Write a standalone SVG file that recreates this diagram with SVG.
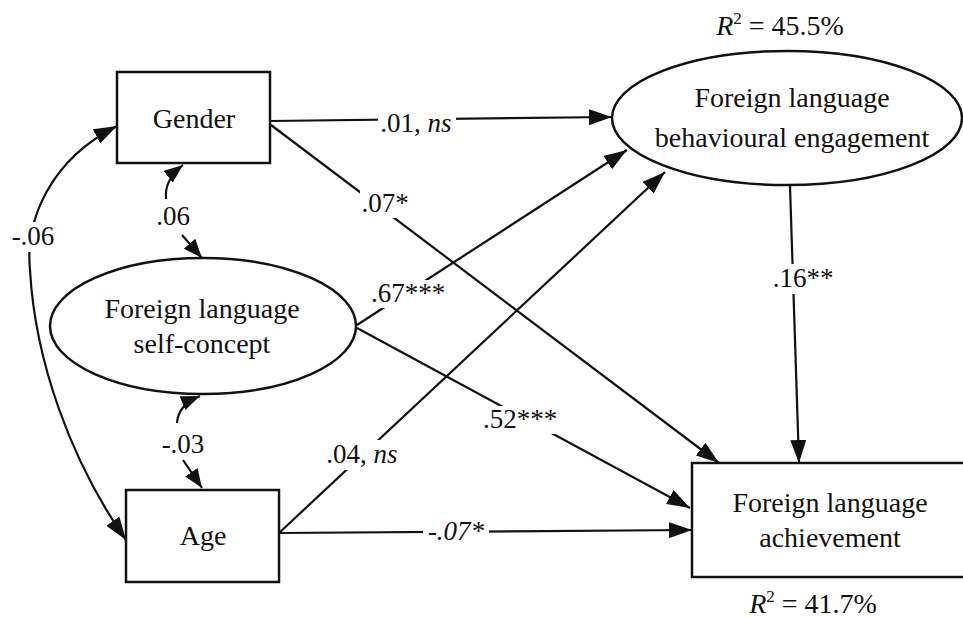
<svg xmlns="http://www.w3.org/2000/svg" width="963" height="618" viewBox="0 0 963 618">
<style>
.node{font-size:28px}
.lab{font-size:27px}
.bg{fill:#fff;stroke:none}
.shape{fill:#fff;stroke:#111;stroke-width:2.5}
.conn path,.conn line{fill:none;stroke:#111;stroke-width:2.2;marker-end:url(#ah)}
</style>
<defs>
<marker id="ah" markerUnits="userSpaceOnUse" markerWidth="24" markerHeight="16" refX="23" refY="8" orient="auto-start-reverse">
<path d="M0,0 L23,8 L0,16 z" fill="#111"/>
</marker>
<marker id="ahs" markerUnits="userSpaceOnUse" markerWidth="20" markerHeight="15" refX="19" refY="7.5" orient="auto">
<path d="M0,0 L19,7.5 L0,15 z" fill="#111"/>
</marker>
</defs>
<g id="conns" class="conn">
<line x1="270" y1="121" x2="612" y2="117"/>
<line x1="271" y1="125" x2="719" y2="463"/>
<line x1="357" y1="325" x2="627" y2="150"/>
<line x1="357" y1="328" x2="690" y2="508"/>
<line x1="279" y1="533" x2="665" y2="172"/>
<line x1="279" y1="533" x2="692" y2="530"/>
<line x1="790" y1="186" x2="799" y2="463"/>
<path d="M30,270 C25,220 50,160 117,126"/>
<path d="M30,270 C35,360 70,460 126,540"/>
<path d="M166,199 Q164,180 183,165" style="marker-end:url(#ahs)"/>
<path d="M182,235 L202,258" style="marker-end:url(#ahs)"/>
<path d="M177,423 Q178,405 200,396" style="marker-end:url(#ahs)"/>
<path d="M183,460 L202,488" style="marker-end:url(#ahs)"/>
</g>
<g id="labels" font-family="Liberation Serif, Times New Roman, serif" fill="#111" text-anchor="middle">
<rect class="bg" x="378" y="108" width="78" height="30"/>
<rect class="bg" x="360" y="188" width="50" height="30"/>
<rect class="bg" x="368" y="280" width="80" height="28"/>
<rect class="bg" x="480" y="406" width="80" height="28"/>
<rect class="bg" x="322" y="440" width="80" height="30"/>
<rect class="bg" x="423" y="518" width="66" height="28"/>
<rect class="bg" x="770" y="264" width="66" height="30"/>
<rect class="bg" x="10" y="222" width="46" height="30"/>
<text class="lab" x="416" y="132">.01, <tspan font-style="italic">ns</tspan></text>
<text class="lab" x="385" y="212">.07*</text>
<text class="lab" x="408" y="302">.67***</text>
<text class="lab" x="520" y="428">.52***</text>
<text class="lab" x="362" y="463">.04, <tspan font-style="italic">ns</tspan></text>
<text class="lab" x="456" y="540" font-style="italic">-.07*</text>
<text class="lab" x="803" y="287">.16**</text>
<text class="lab" x="33" y="245">-.06</text>
<text class="lab" x="173" y="225">.06</text>
<text class="lab" x="183" y="453">-.03</text>
</g>
<g id="gender" font-family="Liberation Serif, Times New Roman, serif" fill="#111" text-anchor="middle">
<rect class="shape" x="117" y="72" width="153" height="91"/>
<text class="node" x="194" y="128">Gender</text>
</g>
<g id="age" font-family="Liberation Serif, Times New Roman, serif" fill="#111" text-anchor="middle">
<rect class="shape" x="126" y="490" width="153" height="92"/>
<text class="node" x="203" y="545">Age</text>
</g>
<g id="selfconcept" font-family="Liberation Serif, Times New Roman, serif" fill="#111" text-anchor="middle">
<ellipse class="shape" cx="203" cy="326" rx="153" ry="68"/>
<text class="node" x="202" y="318">Foreign language</text>
<text class="node" x="202" y="353">self-concept</text>
</g>
<g id="engagement" font-family="Liberation Serif, Times New Roman, serif" fill="#111" text-anchor="middle">
<ellipse class="shape" cx="787" cy="118" rx="175" ry="67"/>
<text class="node" x="792" y="107">Foreign language</text>
<text class="node" x="792" y="147">behavioural engagement</text>
<text class="node" x="780" y="35"><tspan font-style="italic">R</tspan><tspan font-size="17" dy="-11">2</tspan><tspan dy="11"> = 45.5%</tspan></text>
</g>
<g id="achievement" font-family="Liberation Serif, Times New Roman, serif" fill="#111" text-anchor="middle">
<rect class="shape" x="692" y="463" width="280" height="114"/>
<text class="node" x="830" y="512">Foreign language</text>
<text class="node" x="830" y="547">achievement</text>
<text class="node" x="813" y="613"><tspan font-style="italic">R</tspan><tspan font-size="17" dy="-11">2</tspan><tspan dy="11"> = 41.7%</tspan></text>
</g>
</svg>
